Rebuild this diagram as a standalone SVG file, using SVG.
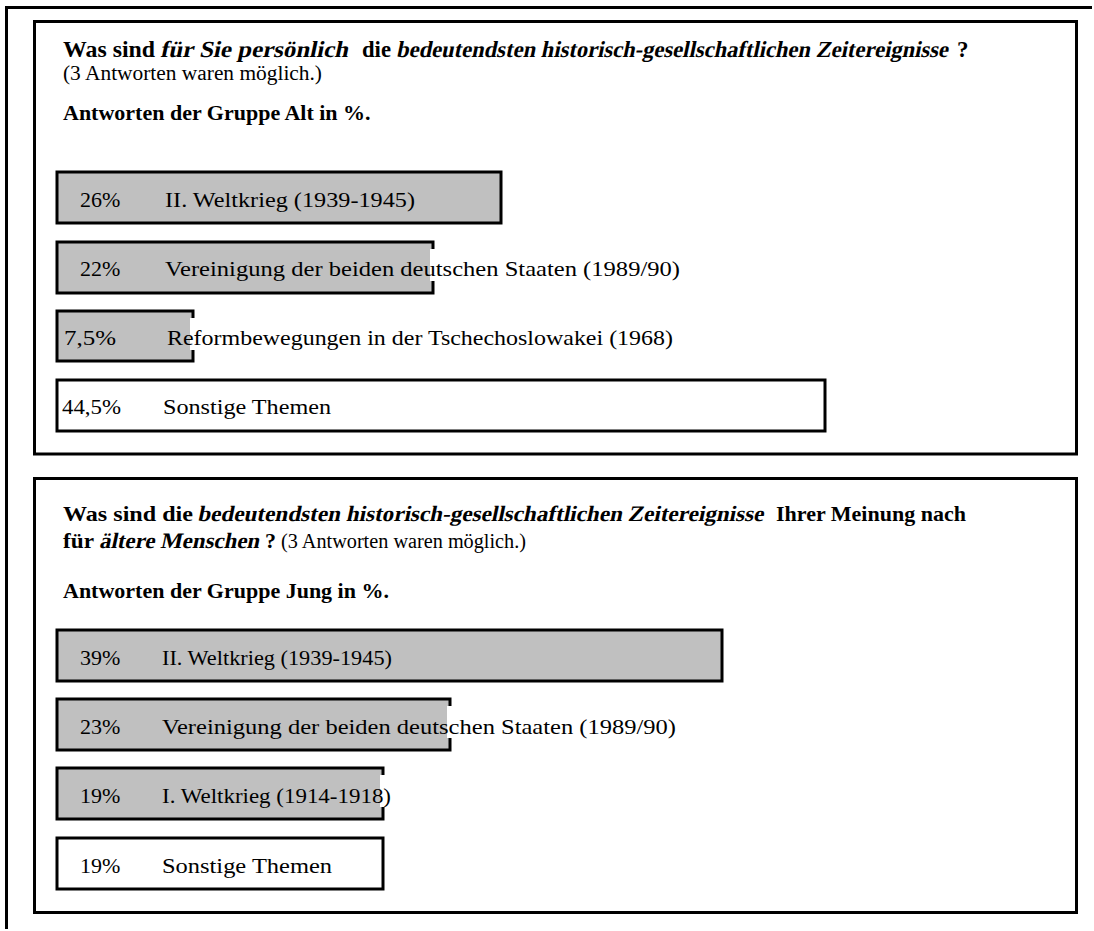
<svg xmlns="http://www.w3.org/2000/svg" width="1094" height="931" viewBox="0 0 1094 931">
<style>
text{font-family:"Liberation Serif","Times New Roman",serif;fill:#000}
.t{font-size:23px;font-weight:bold}
.s{font-size:20px}
.g{font-size:22px;font-weight:bold}
.b{font-size:22px}
.frame{fill:#fff;stroke:#000;stroke-width:3}
.bar{fill:#c0c0c0;stroke:#000;stroke-width:3}
.bare{fill:#fff;stroke:#000;stroke-width:3}
.ko{fill:#fff}
</style>
<rect width="1094" height="931" fill="#fff"/>
<g id="outer">
<line x1="5" y1="7.5" x2="1092" y2="7.5" stroke="#000" stroke-width="3"/>
<line x1="6.5" y1="6" x2="6.5" y2="929" stroke="#000" stroke-width="3"/>
</g>
<g id="panel-alt">
<rect class="frame" x="34.5" y="21.5" width="1042" height="432.5"/>
<text class="t" x="63" y="57" textLength="92" lengthAdjust="spacingAndGlyphs">Was sind</text>
<g transform="skewX(-12)">
<text class="t" x="172" y="57" textLength="188" lengthAdjust="spacingAndGlyphs">für Sie persönlich</text>
<text class="t" x="408" y="57" textLength="552" lengthAdjust="spacingAndGlyphs">bedeutendsten historisch-gesellschaftlichen Zeitereignisse</text>
</g>
<text class="t" x="362" y="57" textLength="29" lengthAdjust="spacingAndGlyphs">die</text>
<text class="t" x="957" y="57">?</text>
<text class="s" x="63" y="80" textLength="259" lengthAdjust="spacingAndGlyphs">(3 Antworten waren möglich.)</text>
<text class="g" x="63" y="120">Antworten der Gruppe Alt in %.</text>
</g>
<g id="alt-bar1">
<rect class="bar" x="57" y="172" width="444" height="51"/>
<text class="b" x="80" y="207">26%</text>
<text class="b" x="165" y="207" textLength="250" lengthAdjust="spacingAndGlyphs">II. Weltkrieg (1939-1945)</text>
</g>
<g id="alt-bar2">
<rect class="bar" x="57" y="242" width="376" height="51"/>
<rect class="ko" x="430" y="249" width="5" height="32"/>
<text class="b" x="80" y="276">22%</text>
<text class="b" x="165" y="276" textLength="515" lengthAdjust="spacingAndGlyphs">Vereinigung der beiden deutschen Staaten (1989/90)</text>
</g>
<g id="alt-bar3">
<rect class="bar" x="57" y="311" width="136" height="50"/>
<rect class="ko" x="190" y="318" width="5" height="32"/>
<text class="b" x="64" y="345" textLength="52" lengthAdjust="spacingAndGlyphs">7,5%</text>
<text class="b" x="167" y="345" textLength="506" lengthAdjust="spacingAndGlyphs">Reformbewegungen in der Tschechoslowakei (1968)</text>
</g>
<g id="alt-bar4">
<rect class="bare" x="57" y="380" width="768" height="51"/>
<text class="b" x="62" y="414" textLength="59" lengthAdjust="spacingAndGlyphs">44,5%</text>
<text class="b" x="163" y="414" textLength="168" lengthAdjust="spacingAndGlyphs">Sonstige Themen</text>
</g>
<g id="panel-jung">
<rect class="frame" x="34.5" y="478.5" width="1042" height="434"/>
<text class="g" x="63" y="521" textLength="130" lengthAdjust="spacingAndGlyphs">Was sind die</text>
<g transform="skewX(-12)">
<text class="g" x="308" y="521" textLength="566" lengthAdjust="spacingAndGlyphs">bedeutendsten historisch-gesellschaftlichen Zeitereignisse</text>
<text class="g" x="215.5" y="548" textLength="160" lengthAdjust="spacingAndGlyphs">ältere Menschen</text>
</g>
<text class="g" x="776" y="521" textLength="190" lengthAdjust="spacingAndGlyphs">Ihrer Meinung nach</text>
<text class="g" x="63" y="548" textLength="31" lengthAdjust="spacingAndGlyphs">für</text>
<text class="g" x="265" y="548">?</text>
<text class="s" x="281" y="548" textLength="245" lengthAdjust="spacingAndGlyphs">(3 Antworten waren möglich.)</text>
<text class="g" x="63" y="598">Antworten der Gruppe Jung in %.</text>
</g>
<g id="jung-bar1">
<rect class="bar" x="57" y="630" width="665" height="51"/>
<text class="b" x="80" y="665">39%</text>
<text class="b" x="162" y="665" textLength="230" lengthAdjust="spacingAndGlyphs">II. Weltkrieg (1939-1945)</text>
</g>
<g id="jung-bar2">
<rect class="bar" x="57" y="699" width="393" height="51"/>
<rect class="ko" x="447" y="706" width="5" height="32"/>
<text class="b" x="80" y="734">23%</text>
<text class="b" x="162" y="734" textLength="514" lengthAdjust="spacingAndGlyphs">Vereinigung der beiden deutschen Staaten (1989/90)</text>
</g>
<g id="jung-bar3">
<rect class="bar" x="57" y="768" width="326" height="51"/>
<rect class="ko" x="380" y="775" width="5" height="32"/>
<text class="b" x="80" y="803">19%</text>
<text class="b" x="162" y="803" textLength="229" lengthAdjust="spacingAndGlyphs">I. Weltkrieg (1914-1918)</text>
</g>
<g id="jung-bar4">
<rect class="bare" x="57" y="838" width="326" height="51"/>
<text class="b" x="80" y="873">19%</text>
<text class="b" x="162" y="873" textLength="170" lengthAdjust="spacingAndGlyphs">Sonstige Themen</text>
</g>
<g id="connectors"></g>
</svg>
